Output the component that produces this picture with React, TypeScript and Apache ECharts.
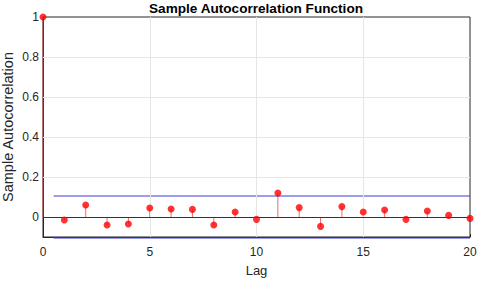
import React, { useEffect, useRef } from "react";
import * as echarts from "echarts";

const lags = [0, 1, 2, 3, 4, 5, 6, 7, 8, 9, 10, 11, 12, 13, 14, 15, 16, 17, 18, 19, 20];
const acf = [1, -0.015, 0.06, -0.04, -0.035, 0.045, 0.04, 0.038, -0.04, 0.025, -0.012, 0.12, 0.047, -0.047, 0.052, 0.025, 0.035, -0.012, 0.03, 0.008, -0.007];
const bound = 0.105;
const boundStart = 0.5;
const yGrid = [0.2, 0.4, 0.6, 0.8];
const xGrid = [5, 10, 15];
const title = "Sample Autocorrelation Function";
const xName = "Lag";
const yName = "Sample Autocorrelation";

export default function App() {
  const ref = useRef<HTMLDivElement>(null);
  useEffect(() => {
    if (!ref.current) return;
    const chart = echarts.init(ref.current, undefined, { renderer: "svg" });
    const font = "Arial, 'Liberation Sans', Helvetica, sans-serif";
    const txt = "#262626";
    const pts = lags.map((l, i) => [l, acf[i]]);
    chart.setOption({
      animation: false,
      textStyle: { fontFamily: font },
      title: {
        text: title,
        left: 256,
        top: 1,
        padding: 0,
        textAlign: "center",
        textStyle: { fontSize: 13.6, fontWeight: "bold", color: "#000", fontFamily: font },
      },
      grid: {
        left: 43,
        right: 10,
        top: 17,
        bottom: 45,
        outerBoundsMode: "none",
        containLabel: false,
        show: true,
        borderColor: "#262626",
        borderWidth: 1,
        backgroundColor: "#fff",
      },
      xAxis: {
        type: "value",
        min: 0,
        max: 20,
        interval: 5,
        name: xName,
        nameLocation: "middle",
        nameGap: 27,
        nameTextStyle: { fontSize: 13, color: txt, fontFamily: font },
        axisLine: { show: true, onZero: false, lineStyle: { color: "#262626" } },
        axisTick: { show: true, inside: true, length: 3, lineStyle: { color: "#262626" } },
        axisLabel: { fontSize: 12, color: txt, margin: 9, fontFamily: font },
        splitLine: { show: false },
      },
      yAxis: {
        type: "value",
        min: -0.1,
        max: 1,
        interval: 0.1,
        name: yName,
        nameLocation: "middle",
        nameGap: 28,
        nameMoveOverlap: false,
        nameTextStyle: { fontSize: 14.5, color: txt, fontFamily: font },
        axisLine: { show: true, lineStyle: { color: "#262626" } },
        axisTick: { show: false },
        axisLabel: {
          fontSize: 12,
          color: txt,
          margin: 4,
          fontFamily: font,
          formatter: (v: number) => {
            const k = Math.round(v * 10);
            if (k < 0 || k % 2 !== 0) return "";
            return String(k / 10);
          },
        },
        splitLine: { show: false },
      },
      series: [
        {
          type: "line",
          data: [],
          silent: true,
          markLine: {
            silent: true,
            symbol: "none",
            label: { show: false },
            lineStyle: { color: "#e6e6e6", type: "solid", width: 1 },
            data: [
              ...yGrid.map((v) => ({ yAxis: v })),
              ...xGrid.map((v) => ({ xAxis: v })),
            ],
          },
        },
        {
          type: "line",
          data: [],
          silent: true,
          markLine: {
            silent: true,
            symbol: "none",
            label: { show: false },
            lineStyle: { color: "#333333", type: "solid", width: 1 },
            data: [{ yAxis: 0 }],
          },
        },
        {
          type: "bar",
          data: pts,
          barWidth: 1,
          silent: true,
          itemStyle: { color: "rgba(230,60,60,0.75)" },
          z: 3,
        },
        {
          type: "line",
          data: [[boundStart, bound], [lags[lags.length - 1], bound]],
          symbol: "none",
          clip: false,
          silent: true,
          lineStyle: { color: "#3a3ad0", width: 1 },
          z: 4,
        },
        {
          type: "line",
          data: [[boundStart, -bound], [lags[lags.length - 1], -bound]],
          symbol: "none",
          clip: false,
          silent: true,
          lineStyle: { color: "#3a3ad0", width: 1 },
          z: 4,
        },
        {
          type: "scatter",
          data: pts,
          symbol: "circle",
          symbolSize: 7,
          clip: false,
          itemStyle: { color: "#ff0000" },
          z: 5,
        },
      ],
    });
    return () => chart.dispose();
  }, []);
  return <div ref={ref} style={{ width: 480, height: 282, position: "absolute", left: 0, top: 0 }} />;
}
